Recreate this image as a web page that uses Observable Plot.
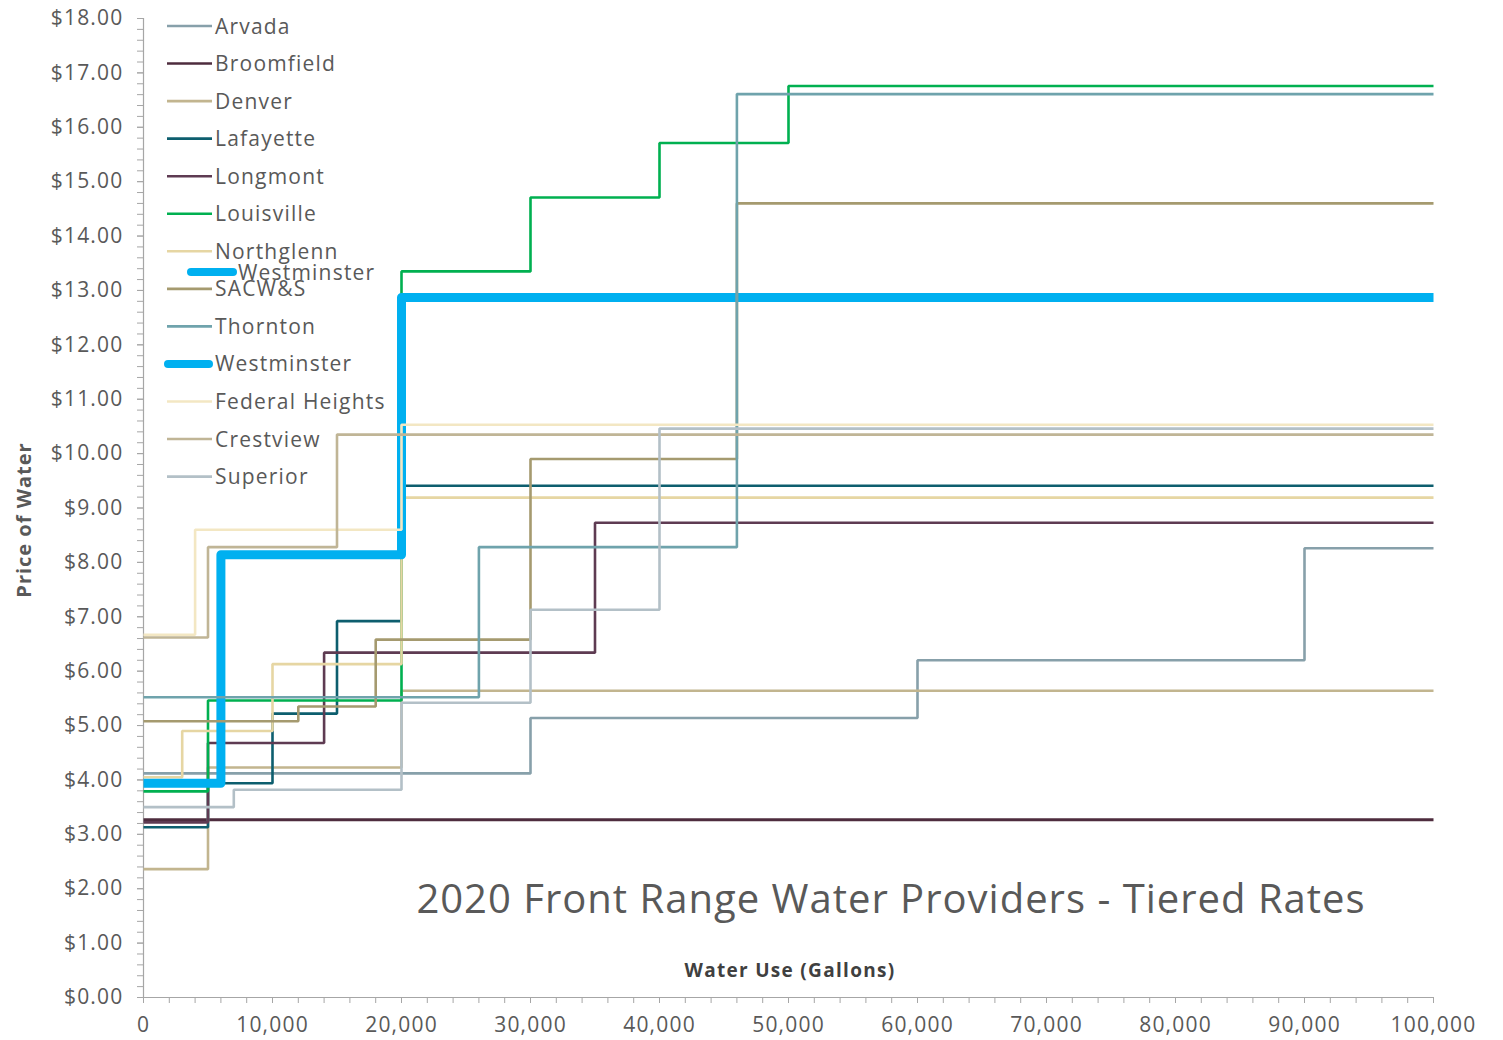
<!DOCTYPE html>
<html><head><meta charset="utf-8">
<script src="https://cdn.jsdelivr.net/npm/d3@7"></script>
<script src="https://cdn.jsdelivr.net/npm/@observablehq/plot@0.6"></script>
<style>
body{margin:0;background:#fff;}
#chart{position:relative;width:1503px;height:1040px;}
</style></head><body><div id="chart"></div>
<script>
// Legend / series names (legend order)
const names = ["Arvada","Broomfield","Denver","Lafayette","Longmont","Louisville","Northglenn","SACW&S","Thornton","Westminster","Federal Heights","Crestview","Superior"];
const colors = ["#87a0aa","#4e2c3e","#c2b58f","#0d5e6e","#5e3b52","#00b050","#e6d6a3","#a59a6f","#6fa3ac","#00b0f0","#f3e7c3","#c0b596","#b3c0c7"];

// Tier start (gallons) and rate ($) per provider
const arvadaTiers = [0, 30000, 60000, 90000];
const arvadaRates = [4.12, 5.14, 6.20, 8.26];
const broomfieldTiers = [0];
const broomfieldRates = [3.27];
const denverTiers = [0, 5000, 20000];
const denverRates = [2.36, 4.23, 5.64];
const lafayetteTiers = [0, 5000, 10000, 15000, 20000];
const lafayetteRates = [3.13, 3.94, 5.22, 6.92, 9.41];
const longmontTiers = [0, 5000, 14000, 35000];
const longmontRates = [3.22, 4.68, 6.34, 8.73];
const louisvilleTiers = [0, 5000, 20000, 30000, 40000, 50000];
const louisvilleRates = [3.79, 5.46, 13.35, 14.71, 15.71, 16.76];
const northglennTiers = [0, 3000, 10000, 20000];
const northglennRates = [4.05, 4.90, 6.13, 9.19];
const sacwsTiers = [0, 12000, 18000, 30000, 46000];
const sacwsRates = [5.08, 5.35, 6.58, 9.90, 14.60];
const thorntonTiers = [0, 26000, 46000];
const thorntonRates = [5.52, 8.28, 16.61];
const westminsterTiers = [0, 6000, 20000];
const westminsterRates = [3.94, 8.14, 12.87];
const federalHeightsTiers = [0, 4000, 20000];
const federalHeightsRates = [6.67, 8.60, 10.53];
const crestviewTiers = [0, 5000, 15000];
const crestviewRates = [6.62, 8.28, 10.35];
const superiorTiers = [0, 7000, 20000, 30000, 40000];
const superiorRates = [3.50, 3.82, 5.42, 7.13, 10.46];

const maxGallons = 100000;
const xMajorTicks = d3.range(0, 100001, 10000);
const xMinorTicks = d3.range(0, 100001, 2000);
const yMajorTicks = d3.range(0, 19, 1);
const yMinorTicks = d3.range(0, 90.5, 1).map(d => d / 5);

const tierData = {
  "Arvada": [arvadaTiers, arvadaRates],
  "Broomfield": [broomfieldTiers, broomfieldRates],
  "Denver": [denverTiers, denverRates],
  "Lafayette": [lafayetteTiers, lafayetteRates],
  "Longmont": [longmontTiers, longmontRates],
  "Louisville": [louisvilleTiers, louisvilleRates],
  "Northglenn": [northglennTiers, northglennRates],
  "SACW&S": [sacwsTiers, sacwsRates],
  "Thornton": [thorntonTiers, thorntonRates],
  "Westminster": [westminsterTiers, westminsterRates],
  "Federal Heights": [federalHeightsTiers, federalHeightsRates],
  "Crestview": [crestviewTiers, crestviewRates],
  "Superior": [superiorTiers, superiorRates]
};
function rowsFor(name) {
  const [t, r] = tierData[name];
  const rows = t.map((g, i) => ({provider: name, gallons: g, price: r[i]}));
  rows.push({provider: name, gallons: maxGallons, price: r[r.length - 1]});
  return rows;
}
const colorOf = Object.fromEntries(names.map((n, i) => [n, colors[i]]));
const drawOrder = ["Arvada","Broomfield","Denver","Lafayette","Longmont","Louisville","Northglenn","Westminster","SACW&S","Thornton","Federal Heights","Crestview","Superior"];

const axisGrey = "#a6a6a6";
const textGrey = "#595959";
const font = "'Open Sans', sans-serif";

const lineMarks = drawOrder.map(n => Plot.line(rowsFor(n), {
  x: "gallons", y: "price", curve: "step-after",
  stroke: colorOf[n],
  strokeWidth: n === "Westminster" ? 9 : (n === "Broomfield" ? 3 : 2.6),
  strokeLinejoin: n === "Westminster" ? "round" : "miter",
  strokeLinecap: "butt"
}));

const plot = Plot.plot({
  width: 1503, height: 1040,
  marginLeft: 143, marginRight: 70, marginTop: 18, marginBottom: 43,
  x: {domain: [0, maxGallons]},
  y: {domain: [0, 18]},
  style: {fontFamily: font, fontSize: "21px", color: textGrey, background: "#fff"},
  marks: [
    Plot.axisY({ticks: yMinorTicks, tickSize: 6, tickFormat: () => "", label: null, stroke: axisGrey}),
    Plot.axisY({ticks: yMajorTicks, tickSize: 6, tickPadding: 14, tickFormat: d => "$" + d.toFixed(2), label: null, stroke: axisGrey, fill: textGrey, fontSize: 21}),
    Plot.axisX({ticks: xMinorTicks, tickSize: 6, tickFormat: () => "", label: null, stroke: axisGrey}),
    Plot.axisX({ticks: xMajorTicks, tickSize: 6, tickPadding: 14, tickFormat: d3.format(","), label: null, stroke: axisGrey, fill: textGrey, fontSize: 21}),
    Plot.ruleX([0], {stroke: axisGrey, strokeWidth: 1.2}),
    Plot.ruleY([0], {stroke: axisGrey, strokeWidth: 1.2}),
    ...lineMarks
  ]
});
document.getElementById("chart").appendChild(plot);

const svg = d3.select(plot);
svg.style("letter-spacing", "1.2px");

// Annotations
const ann = svg.append("g").attr("font-family", font);
ann.append("text").text("2020 Front Range Water Providers - Tiered Rates")
  .attr("x", 891).attr("y", 913).attr("text-anchor", "middle")
  .attr("font-size", 40).attr("letter-spacing", "1px").attr("fill", textGrey);
ann.append("text").text("Water Use (Gallons)")
  .attr("x", 790).attr("y", 977).attr("text-anchor", "middle")
  .attr("font-size", 19).attr("font-weight", "bold").attr("letter-spacing", "1.3px").attr("fill", "#404040");
ann.append("text").text("Price of Water")
  .attr("transform", "translate(31,520) rotate(-90)").attr("text-anchor", "middle")
  .attr("font-size", 20).attr("font-weight", "bold").attr("letter-spacing", "1px").attr("fill", textGrey);

// Legend
const leg = svg.append("g").attr("font-family", font).attr("font-size", 21)
  .attr("fill", textGrey).attr("text-anchor", "start");
names.forEach((n, i) => {
  const cy = 26 + i * 37.55;
  const isW = n === "Westminster";
  leg.append("line").attr("x1", isW ? 168 : 167).attr("x2", isW ? 209 : 212)
    .attr("y1", cy).attr("y2", cy).attr("stroke", colorOf[n])
    .attr("stroke-width", isW ? 8 : 2.6).attr("stroke-linecap", isW ? "round" : "butt");
  leg.append("text").text(n).attr("x", 215).attr("y", cy + 7.5);
});
// duplicated Westminster legend entry (as in the original)
leg.append("line").attr("x1", 191).attr("x2", 233).attr("y1", 272).attr("y2", 272)
  .attr("stroke", colorOf["Westminster"]).attr("stroke-width", 8).attr("stroke-linecap", "round");
leg.append("text").text("Westminster").attr("x", 238).attr("y", 279.5);
</script></body></html>
